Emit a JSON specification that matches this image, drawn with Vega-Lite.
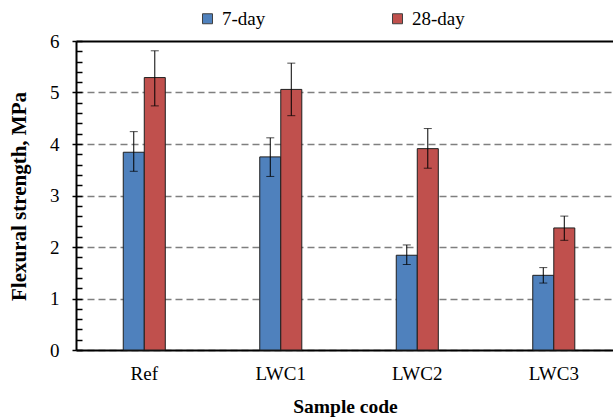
{
  "$schema": "https://vega.github.io/schema/vega-lite/v6.json",
  "autosize": {"type": "none"},
  "padding": {"left": 76, "top": 41, "right": 0, "bottom": 69},
  "width": 537,
  "height": 309,
  "background": "white",
  "config": {
    "font": "Liberation Serif",
    "view": {"stroke": null},
    "axis": {"labelFont": "Liberation Serif", "titleFont": "Liberation Serif", "labelColor": "black", "titleColor": "black"},
    "legend": {"labelFont": "Liberation Serif"}
  },
  "data": {
    "values": [
      {"sample": "Ref", "age": "7-day", "mean": 3.84, "lo": 3.47, "hi": 4.24},
      {"sample": "Ref", "age": "28-day", "mean": 5.29, "lo": 4.74, "hi": 5.81},
      {"sample": "LWC1", "age": "7-day", "mean": 3.75, "lo": 3.37, "hi": 4.12},
      {"sample": "LWC1", "age": "28-day", "mean": 5.06, "lo": 4.55, "hi": 5.57},
      {"sample": "LWC2", "age": "7-day", "mean": 1.84, "lo": 1.66, "hi": 2.04},
      {"sample": "LWC2", "age": "28-day", "mean": 3.91, "lo": 3.53, "hi": 4.30},
      {"sample": "LWC3", "age": "7-day", "mean": 1.45, "lo": 1.30, "hi": 1.60},
      {"sample": "LWC3", "age": "28-day", "mean": 2.37, "lo": 2.13, "hi": 2.60}
    ]
  },
  "encoding": {
    "x": {
      "field": "sample", "type": "nominal",
      "sort": ["Ref", "LWC1", "LWC2", "LWC3"],
      "scale": {"paddingInner": 0.692, "paddingOuter": 0.313, "align": 0.553},
      "axis": {
        "title": "Sample code", "titleFontSize": 19.5, "titleFontWeight": "bold",
        "titleX": 269, "titleY": 56, "titleBaseline": "middle", "titleAlign": "center",
        "labelFontSize": 19, "labelAngle": 0, "labelPadding": 14,
        "ticks": false, "domainColor": "black", "domainWidth": 2, "grid": false
      }
    },
    "xOffset": {"field": "age", "type": "nominal", "sort": ["7-day", "28-day"], "scale": {"paddingInner": 0, "paddingOuter": 0}}
  },
  "resolve": {"axis": {"y": "independent"}},
  "layer": [
    {
      "mark": {"type": "bar", "stroke": "#1f1f1f", "strokeWidth": 1},
      "encoding": {
        "y": {
          "field": "mean", "type": "quantitative",
          "scale": {"domain": [0, 6], "nice": false},
          "axis": {
            "orient": "left",
            "title": "Flexural strength, MPa", "titleFontSize": 21, "titleFontWeight": "bold",
            "titleX": -57, "titleY": 155, "titleAngle": -90, "titleBaseline": "middle", "titleAlign": "center",
            "values": [0, 1, 2, 3, 4, 5, 6],
            "labelFontSize": 19, "labelPadding": 13,
            "tickSize": 4, "tickColor": "black", "tickWidth": 1.5,
            "domainColor": "black", "domainWidth": 2,
            "grid": true,
            "gridColor": {"condition": {"test": "datum.value === 6", "value": "black"}, "value": "#7f7f7f"},
            "gridWidth": {"condition": {"test": "datum.value === 6", "value": 2}, "value": 1.5},
            "gridDash": {"condition": {"test": "datum.value === 6", "value": []}, "value": [7, 4]}
          }
        },
        "color": {
          "field": "age", "type": "nominal",
          "scale": {"domain": ["7-day", "28-day"], "range": ["#4F81BD", "#C0504D"]},
          "legend": {
            "title": null, "orient": "none", "direction": "horizontal",
            "legendX": 122, "legendY": -32, "padding": 0,
            "symbolType": "square", "symbolSize": 100, "symbolStrokeColor": "#404040", "symbolStrokeWidth": 1,
            "labelFontSize": 19, "labelColor": "black", "labelOffset": 5, "columnPadding": 122
          }
        }
      }
    },
    {
      "mark": {"type": "rule", "color": "black", "strokeWidth": 1},
      "encoding": {
        "y": {"field": "lo", "type": "quantitative", "axis": null},
        "y2": {"field": "hi"}
      }
    },
    {
      "mark": {"type": "tick", "color": "black", "thickness": 1, "size": 8},
      "encoding": {
        "y": {
          "field": "lo", "type": "quantitative",
          "axis": {
            "orient": "right", "title": null, "labels": false, "domain": false, "grid": false,
            "offset": -537,
            "values": [0, 0.2, 0.4, 0.6, 0.8, 1, 1.2, 1.4, 1.6, 1.8, 2, 2.2, 2.4, 2.6, 2.8, 3, 3.2, 3.4, 3.6, 3.8, 4, 4.2, 4.4, 4.6, 4.8, 5, 5.2, 5.4, 5.6, 5.8, 6],
            "ticks": true, "tickSize": 6, "tickColor": "black", "tickWidth": 1.5
          }
        }
      }
    },
    {
      "mark": {"type": "tick", "color": "black", "thickness": 1, "size": 8},
      "encoding": {"y": {"field": "hi", "type": "quantitative", "axis": null}}
    }
  ]
}
